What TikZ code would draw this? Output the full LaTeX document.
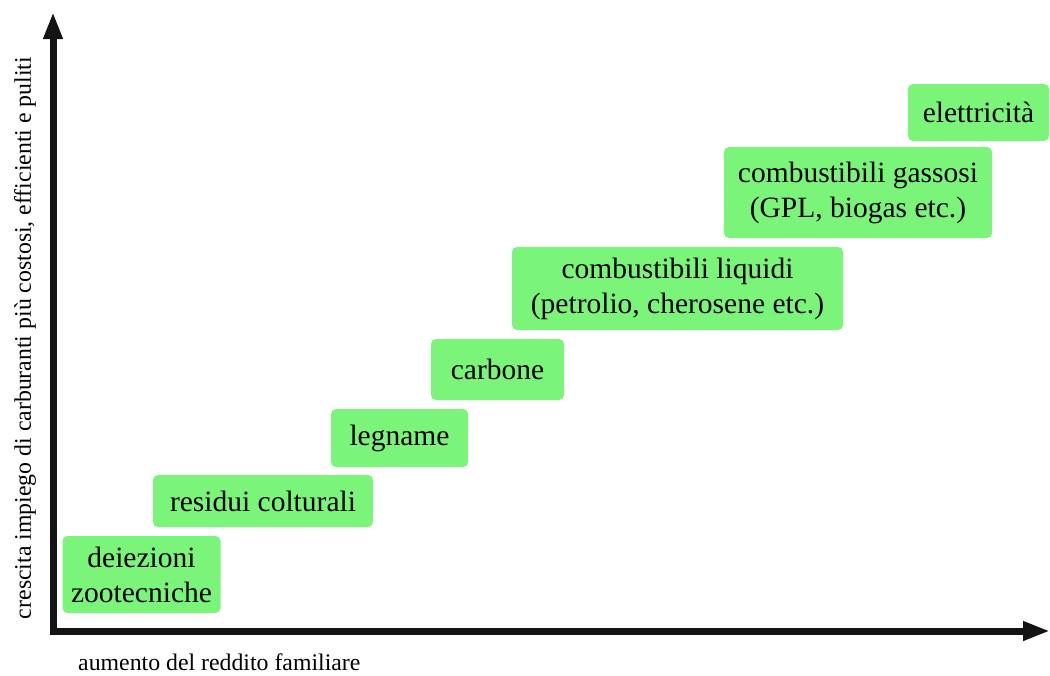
\documentclass[tikz,border=0pt]{standalone}
\usepackage{fontspec}
\setmainfont{Liberation Serif}
\usetikzlibrary{arrows.meta}
\definecolor{boxgreen}{RGB}{122,245,122}
\definecolor{axisblack}{RGB}{20,20,20}
\tikzset{
  fuelbox/.style={fill=boxgreen, draw=none, rounded corners=5pt, inner sep=0pt,
    align=center, font=\fontsize{29.5}{35}\selectfont, anchor=center},
  axisline/.style={line width=7pt, draw=axisblack, -{Triangle[length=27pt,width=18pt]}},
  axislabel/.style={font=\fontsize{23.8}{28}\selectfont, inner sep=0pt},
}
\begin{document}
\begin{tikzpicture}[x=1pt,y=-1pt]
\useasboundingbox (0,0) rectangle (1050,675);
% axes
\coordinate (O) at (50,631);
\coordinate (Ytip) at (53,12);
\coordinate (Xtip) at (1050,631);
\coordinate (Ybot) at (53,635);
\draw[axisline] (Ybot) -- (Ytip);
\draw[axisline] (O) -- (Xtip);
% labels
\node[axislabel, anchor=base west] (xlab) at (78,670) {aumento del reddito familiare};
\node[axislabel, rotate=90] (ylab) at (25,338) {crescita impiego di carburanti più costosi, efficienti e puliti};
% boxes
\node[fuelbox, minimum width=158pt, minimum height=77pt] (b1) at (141.5,574.5) {deiezioni\\zootecniche};
\node[fuelbox, minimum width=220pt, minimum height=52pt] (b2) at (263,501) {residui colturali};
\node[fuelbox, minimum width=137pt, minimum height=58pt] (b3) at (399.5,438) {legname};
\node[fuelbox, minimum width=133pt, minimum height=61pt] (b4) at (497.5,369.5) {carbone};
\node[fuelbox, minimum width=331pt, minimum height=83pt] (b5) at (677.5,288.5) {combustibili liquidi\\(petrolio, cherosene etc.)};
\node[fuelbox, minimum width=268pt, minimum height=91pt] (b6) at (858,192.5) {combustibili gassosi\\(GPL, biogas etc.)};
\node[fuelbox, minimum width=141pt, minimum height=57pt] (b7) at (978.5,112.5) {elettricità};
\end{tikzpicture}
\end{document}
